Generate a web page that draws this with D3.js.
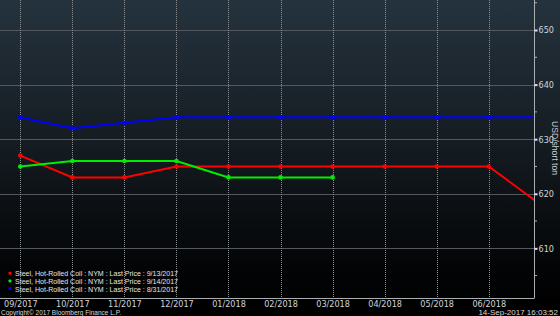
<!DOCTYPE html>
<html><head><meta charset="utf-8">
<script src="https://cdn.jsdelivr.net/npm/d3@7"></script>
<style>
html,body{margin:0;padding:0;background:#000;}
svg{display:block;}
text{font-family:"Liberation Sans",Arial,sans-serif;}
</style></head>
<body>
<svg id="c" width="560" height="316"></svg>
<script>
// ---- data ----
const months = ["09/2017","10/2017","11/2017","12/2017","01/2018","02/2018","03/2018","04/2018","05/2018","06/2018","07/2018"];
const tickLabels = ["09/2017","10/2017","11/2017","12/2017","01/2018","02/2018","03/2018","04/2018","05/2018","06/2018"];
const red913 = [627,623,623,625,625,625,625,625,625,625,618];
const green914 = [625,626,626,626,623,623,623];
const blue831 = [634,632,633,634,634,634,634,634,634,634,634];
const yTicks = [610,620,630,640,650];
const seriesNames = [
  "Steel, Hot-Rolled Coil : NYM : Last Price : 9/13/2017",
  "Steel, Hot-Rolled Coil : NYM : Last Price : 9/14/2017",
  "Steel, Hot-Rolled Coil : NYM : Last Price : 8/31/2017"
];
const seriesColors = ["#ff0000","#00ee00","#0000ff"];

const W=560,H=316;
const plot={l:0,t:0,r:534,b:298};
const svg=d3.select("#c");

// background gradient
const defs=svg.append("defs");
const g=defs.append("linearGradient").attr("id","bg").attr("x1",0).attr("y1",0).attr("x2",0).attr("y2",1);
g.append("stop").attr("offset","0").attr("stop-color","#25333e");
g.append("stop").attr("offset","0.45").attr("stop-color","#151c22");
g.append("stop").attr("offset","0.85").attr("stop-color","#030405");
g.append("stop").attr("offset","1").attr("stop-color","#000");
svg.append("rect").attr("width",W).attr("height",H).attr("fill","url(#bg)");
svg.append("rect").attr("y",plot.b).attr("width",W).attr("height",H-plot.b).attr("fill","#000");
defs.append("clipPath").attr("id","clip").append("rect")
  .attr("x",plot.l).attr("y",plot.t).attr("width",plot.r-plot.l).attr("height",plot.b-plot.t);

const x=d3.scaleLinear().domain([-0.39,9.87]).range([plot.l,plot.r]);
const y=d3.scaleLinear().domain([600.9,655.5]).range([plot.b,plot.t]);

// horizontal grid
svg.append("g").selectAll("line").data(yTicks).join("line")
  .attr("x1",plot.l).attr("x2",plot.r).attr("y1",d=>Math.round(y(d))+0.5).attr("y2",d=>Math.round(y(d))+0.5)
  .attr("stroke","#52585d").attr("stroke-width",1);
// vertical dotted grid
svg.append("g").selectAll("line").data(tickLabels).join("line")
  .attr("x1",(d,i)=>Math.round(x(i))+0.5).attr("x2",(d,i)=>Math.round(x(i))+0.5)
  .attr("y1",plot.t).attr("y2",plot.b)
  .attr("stroke","#8a8f94").attr("stroke-width",1).attr("stroke-dasharray","1,1");

// right axis
const yAxis=d3.axisRight(y).tickValues(yTicks).tickSize(4).tickPadding(1).tickFormat(d3.format("d"));
const ya=svg.append("g").attr("transform",`translate(${plot.r+0.5},0)`).call(yAxis);
ya.select(".domain").attr("stroke","#a9aeb2").attr("d",`M0,${plot.t}V${plot.b}`);
ya.selectAll(".tick line").attr("stroke","#e0e0e0").attr("stroke-width",2).attr("x1",0).attr("x2",3);
ya.selectAll(".tick text").attr("fill","#d0d4d8").attr("font-size",9).attr("x",4).style("font-family","'Liberation Sans Narrow','DejaVu Sans Condensed',sans-serif");
// minor ticks
svg.append("g").selectAll("line").data([605,615,625,635,645,655]).join("line")
  .attr("x1",plot.r).attr("x2",plot.r+3).attr("y1",d=>y(d)).attr("y2",d=>y(d))
  .attr("stroke","#a9aeb2").attr("stroke-width",1);

// bottom axis
const xAxis=d3.axisBottom(x).tickValues(d3.range(tickLabels.length)).tickSize(0).tickPadding(2).tickFormat(i=>tickLabels[i]);
const xa=svg.append("g").attr("transform",`translate(0,${plot.b+0.5})`).call(xAxis);
xa.select(".domain").attr("stroke","#a9aeb2").attr("d",`M${plot.l},0H${plot.r+0.5}`);
xa.selectAll(".tick text").attr("fill","#d0d4d8").attr("font-size",9).style("font-family","'Liberation Sans Narrow','DejaVu Sans Condensed',sans-serif");

// y title
svg.append("text").attr("transform",`translate(552,148) rotate(90)`).attr("text-anchor","middle")
  .attr("fill","#c8ccd0").attr("font-size",9.5).attr("textLength",54).attr("lengthAdjust","spacingAndGlyphs")
  .text("USD/short ton");

// series
const series=[red913,green914,blue831];
const order=[2,0,1];
const lines=svg.append("g").attr("clip-path","url(#clip)");
const lineGen=d3.line().x((d,i)=>x(i)).y(d=>y(d));
order.forEach(k=>{
  const data=series[k];
  lines.append("path").datum(data).attr("d",lineGen).attr("fill","none")
    .attr("stroke",seriesColors[k]).attr("stroke-width",2);
  lines.append("g").selectAll("circle").data(data).join("circle")
    .attr("cx",(d,i)=>x(i)).attr("cy",d=>y(d)).attr("r",2.3).attr("fill",seriesColors[k]);
});

// legend
const lg=svg.append("g");
seriesNames.forEach((n,i)=>{
  const yy=273.5+i*7.7;
  lg.append("rect").attr("x",8.5).attr("y",yy-1.8).attr("width",3).attr("height",3).attr("rx",0.8).attr("fill",seriesColors[i]);
  lg.append("text").attr("x",15).attr("y",yy+2.8).attr("fill","#e6e6e6").attr("font-size",8)
    .attr("textLength",163).attr("lengthAdjust","spacingAndGlyphs").text(n);
});

// footer
svg.append("text").attr("x",1).attr("y",314.5).attr("fill","#d8d8d8").attr("font-size",8)
  .attr("textLength",120).attr("lengthAdjust","spacingAndGlyphs").text("Copyright\u00A9 2017 Bloomberg Finance L.P.");
svg.append("text").attr("x",558).attr("y",314.5).attr("text-anchor","end").attr("fill","#d8d8d8").attr("font-size",8)
  .text("14-Sep-2017 16:03:52");
</script>
</body></html>
